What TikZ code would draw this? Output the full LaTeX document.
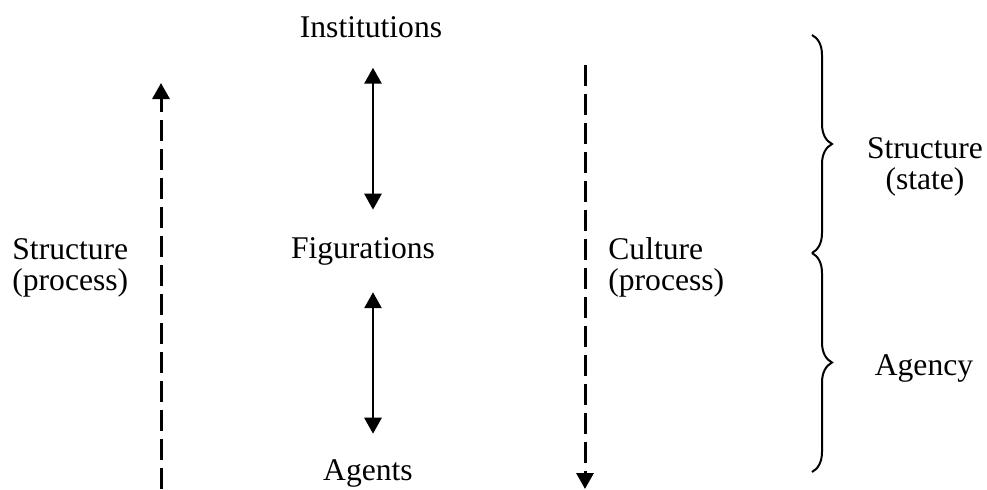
\documentclass[tikz,border=0pt]{standalone}
\usepackage{fontspec}
\setmainfont{Liberation Serif}
\usetikzlibrary{arrows.meta,decorations.pathreplacing}
\begin{document}
\begin{tikzpicture}[x=0.5pt,y=-0.5pt,
	lbl/.style={inner sep=0pt,font=\fontsize{15.8}{15.5}\selectfont},
	twoway/.style={line width=1.4pt,{Triangle[length=8pt,width=8.5pt]}-{Triangle[length=8pt,width=8.5pt]}},
	flow/.style={line width=1.5pt,dash pattern=on 10.3pt off 4.2pt,-{Triangle[length=8pt,width=8.5pt]}},
	curly/.style={line width=1pt,decorate,decoration={brace,amplitude=10pt}}]
		\useasboundingbox (0,0) rectangle (987,489);
		%levels
		\node[lbl,anchor=base] (inst) at (371,37) {Institutions};
		\node[lbl,anchor=base] (fig) at (363,258) {Figurations};
		\node[lbl,anchor=base] (agents) at (368,480) {Agents};
		\node[lbl,anchor=base west,align=left] (sproc) at (12,290) {Structure\\(process)};
		\node[lbl,anchor=base west,align=left] (cproc) at (608,290) {Culture\\(process)};
		\node[lbl,anchor=base,align=center] (state) at (925,189) {Structure\\(state)};
		\node[lbl,anchor=base] (agency) at (924,375) {Agency};
		%two-way arrows
		\coordinate (axis) at (373,0);
		\draw[twoway,shorten <=15pt,shorten >=13.5pt] (inst.south -| axis) -- (fig.north -| axis);
		\draw[twoway,shorten <=13.5pt,shorten >=12.5pt] (fig.south -| axis) -- (agents.north -| axis);
		%process arrows
		\coordinate (lbot) at (161,489);
		\coordinate (ltop) at (161,83);
		\coordinate (rtop) at (585,65);
		\coordinate (rbot) at (585,489);
		\draw[flow] (lbot) -- (ltop);
		\draw[flow] (rtop) -- (rbot);
		%braces
		\coordinate (b1) at (812,35);
		\coordinate (b2) at (812,253);
		\coordinate (b3) at (812,472);
		\draw[curly] (b1) -- (b2);
		\draw[curly] (b2) -- (b3);
\end{tikzpicture}
\end{document}
